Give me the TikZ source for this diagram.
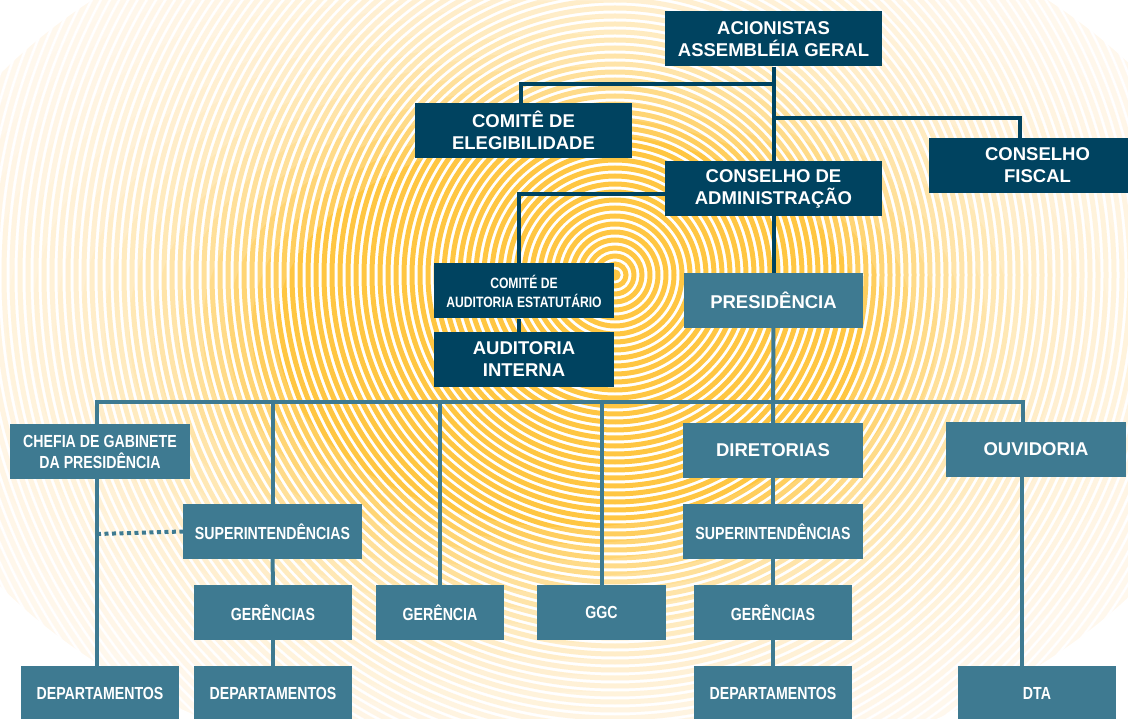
\documentclass[tikz,border=0pt]{standalone}
\usepackage{fontspec}
\setmainfont{Liberation Sans}
\newfontfamily\narrowfont{Liberation Sans}[FakeStretch=0.81]

\definecolor{navy}{RGB}{0,67,96}
\definecolor{tealc}{RGB}{62,122,145}
\definecolor{ringc}{RGB}{255,198,66}

\tikzset{
  box/.style={rectangle, inner sep=0pt, align=center, text=white,
    minimum height=55pt},
  navybox/.style={box, fill=navy, font=\fontsize{18.5}{22}\selectfont\bfseries},
  tealbox/.style={box, fill=tealc, font=\fontsize{18.5}{22}\selectfont\bfseries},
  thinbox/.style={box, fill=tealc, font=\narrowfont\fontsize{17.5}{21}\selectfont\bfseries},
  navyline/.style={draw=navy, line width=4pt},
  tealline/.style={draw=tealc, line width=4pt},
  ring/.style={draw=ringc, line width=5pt},
  veil/.style={fill=white, opacity=0.15, even odd rule}
}

\begin{document}
\begin{tikzpicture}[x=1pt, y=-1pt]
    \useasboundingbox (0,0) rectangle (1128,719);
    \clip (0,0) rectangle (1128,719);

    % rings, washed out towards the rim
    \foreach \r in {3,11,...,899}
      \draw[ring] (615,275) circle (\r);
    \foreach \s in {0.42,0.455,...,0.96}
      \path[veil] (-10,-10) rectangle (1140,730) (570,330) ellipse ({700*\s} and {470*\s});
    \fill[white, even odd rule] (-10,-10) rectangle (1140,730) (570,330) ellipse (686 and 460);

    % top
    \node[navybox, minimum width=217pt] (acion) at (773.5,39) {ACIONISTAS\\ASSEMBLÉIA GERAL};
    \node[navybox, minimum width=217pt] (eleg) at (523.5,130.5) {COMITÊ DE\\ELEGIBILIDADE};
    \node[navybox, minimum width=217pt] (fiscal) at (1037.5,165.5) {CONSELHO\\FISCAL};
    \node[navybox, minimum width=217pt] (adm) at (773.5,188.5) {CONSELHO DE\\ADMINISTRAÇÃO};
    \node[navybox, minimum width=180pt, font=\narrowfont\fontsize{15}{19}\selectfont\bfseries] (audest) at (524,291) {COMITÉ DE\\AUDITORIA ESTATUTÁRIO};
    \node[navybox, minimum width=180pt] (audint) at (524,359.5) {AUDITORIA\\INTERNA};
    \node[tealbox, minimum width=179pt] (pres) at (773.5,300.5) {PRESIDÊNCIA};

    \coordinate (jE) at (773.5,84);
    \coordinate (jF) at (773.5,118);
    \coordinate (bus) at (773.5,402);

    \draw[navyline] (acion) -- (adm);
    \draw[navyline] (jE) -| ([xshift=-2.5pt]eleg.north);
    \draw[navyline] (jF) -| ([xshift=-17.5pt]fiscal.north);
    \draw[navyline] ([yshift=-5.5pt]adm.west) -| ([xshift=-5pt]audest.north);
    \draw[navyline] ([xshift=-5pt]audest.south) -- ([xshift=-5pt]audint.north);
    \draw[navyline] (adm) -- (pres);

    % bottom
    \node[thinbox, minimum width=180pt] (chefia) at (100,451.5) {CHEFIA DE GABINETE\\DA PRESIDÊNCIA};
    \node[thinbox, minimum width=179pt] (supL) at (272.5,531.5) {SUPERINTENDÊNCIAS};
    \node[thinbox, minimum width=158pt] (gerL) at (273,612.5) {GERÊNCIAS};
    \node[thinbox, minimum width=158pt] (depA) at (100,693.5) {DEPARTAMENTOS};
    \node[thinbox, minimum width=158pt] (depB) at (273,693.5) {DEPARTAMENTOS};
    \node[thinbox, minimum width=128pt] (ger) at (440,612.5) {GERÊNCIA};
    \node[thinbox, minimum width=129pt] (ggc) at (601.5,612.5) {GGC};
    \node[tealbox, minimum width=180pt] (dir) at (773,450.5) {DIRETORIAS};
    \node[thinbox, minimum width=180pt] (supR) at (773,531.5) {SUPERINTENDÊNCIAS};
    \node[thinbox, minimum width=158pt] (gerR) at (773,612.5) {GERÊNCIAS};
    \node[thinbox, minimum width=158pt] (depC) at (773,693.5) {DEPARTAMENTOS};
    \node[tealbox, minimum width=180pt] (ouv) at (1036,449.5) {OUVIDORIA};
    \node[thinbox, minimum width=158pt] (dta) at (1037,693.5) {DTA};

    \coordinate (dotL) at (97,534);

    \draw[tealline] (pres) -- (dir);
    \draw[tealline] ([xshift=-3pt]chefia.north) |- (bus) -| ([xshift=-13pt]ouv.north);
    \draw[tealline] (supL.north) -- (supL.north |- bus);
    \draw[tealline] (ger.north) -- (ger.north |- bus);
    \draw[tealline] (ggc.north) -- (ggc.north |- bus);
    \draw[tealline] ([xshift=-3pt]chefia.south) -- ([xshift=-3pt]depA.north);
    \draw[tealline, dash pattern=on 4pt off 3.5pt] (dotL) -- (supL.west);
    \draw[tealline] (supL) -- (gerL);
    \draw[tealline] (gerL) -- (depB);
    \draw[tealline] (dir) -- (supR);
    \draw[tealline] (supR) -- (gerR);
    \draw[tealline] (gerR) -- (depC);
    \draw[tealline] ([xshift=-14pt]ouv.south) -- ([xshift=-14pt]ouv.south |- dta.north);

  \end{tikzpicture}
\end{document}
